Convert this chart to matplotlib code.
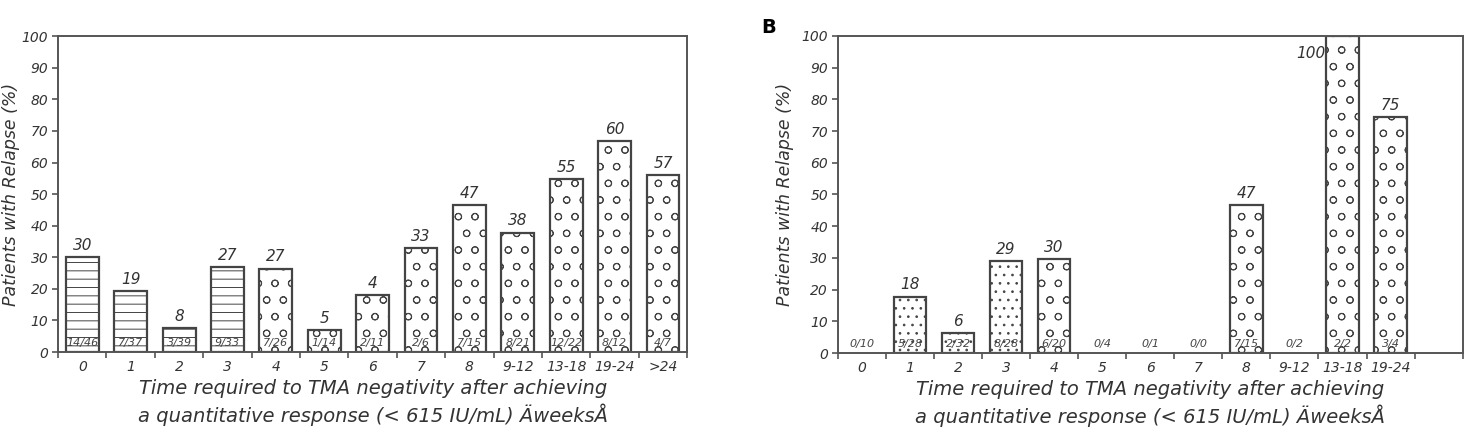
import numpy as np
import matplotlib
matplotlib.use("Agg")
import matplotlib.pyplot as plt

plt.rcParams['font.family'] = ['DejaVu Sans']
plt.rcParams['hatch.color'] = '#666666'
plt.rcParams['hatch.linewidth'] = 0.7

# panel A
cats_a = ['0', '1', '2', '3', '4', '5', '6', '7', '8', '9-12', '13-18', '19-24', '>24']
vals_a = [30, 19.3, 7.6, 26.9, 26.4, 7, 18.1, 32.9, 46.6, 37.8, 54.7, 66.9, 56.1]
top_a = ['30', '19', '8', '27', '27', '5', '4', '33', '47', '38', '55', '60', '57']
frac_a = ['14/46', '7/37', '3/39', '9/33', '7/26', '1/14', '2/11', '2/6', '7/15',
          '8/21', '12/22', '8/12', '4/7']
hatch_a = ['--', '--', '--', '--', 'o', 'o', 'o', 'o', 'o', 'o', 'o', 'o', 'o']

# panel B
cats_b = ['0', '1', '2', '3', '4', '5', '6', '7', '8', '9-12', '13-18', '19-24', '']
vals_b = [0, 17.8, 6.3, 29, 29.7, 0, 0, 0, 46.7, 0, 100, 74.5, 0]
top_b = ['', '18', '6', '29', '30', '', '', '', '47', '', '100', '75', '']
frac_b = ['0/10', '5/28', '2/32', '8/28', '6/20', '0/4', '0/1', '0/0', '7/15',
          '0/2', '2/2', '3/4', '']
hatch_b = ['', '..', '..', '..', 'o', 'o', 'o', 'o', 'o', 'o', 'o', 'o', '']

xlabel = ('Time required to TMA negativity after achieving\n'
          'a quantitative response (< 615 IU/mL) ÄweeksÅ')
ylabel = 'Patients with Relapse (%)'
txt = '#333333'

fig = plt.figure(figsize=(14.7, 4.41), dpi=100)
ax1 = fig.add_axes([0.0395, 0.2018, 0.428, 0.716])
ax2 = fig.add_axes([0.570, 0.1995, 0.425, 0.719])


def draw(ax, cats, vals, tops, fracs, hatches, ylab_x):
    x = np.arange(len(cats))
    for i in x:
        if vals[i] > 0:
            ax.bar(x[i], vals[i], width=0.68, facecolor='white', edgecolor='#444444',
                   linewidth=1.6, hatch=hatches[i], zorder=2)
        if tops[i]:
            if vals[i] >= 99:
                ax.annotate(tops[i], (x[i] - 0.36, 94.5), ha='right', va='center',
                            fontsize=11, style='italic', color=txt)
            else:
                ax.annotate(tops[i], (x[i], vals[i]), xytext=(0, 3),
                            textcoords='offset points', ha='center', va='bottom',
                            fontsize=11, style='italic', color=txt)
        ax.text(x[i], 1.2, fracs[i], ha='center', va='bottom', fontsize=8,
                style='italic', color='#444444', zorder=3)
    ax.set_xlim(-0.5, len(cats) - 0.5)
    ax.set_ylim(0, 100)
    ax.set_yticks(range(0, 101, 10))
    ax.set_xticks(x)
    ax.set_xticklabels(cats, fontsize=10, style='italic', color=txt)
    ax.set_xticks(np.arange(-0.5, len(cats), 1), minor=True)
    ax.tick_params(axis='x', which='major', length=0, pad=6)
    ax.tick_params(axis='x', which='minor', length=4, color='#555555', width=1.2)
    ax.tick_params(axis='y', length=4, color='#555555', width=1.2, labelsize=10,
                   labelcolor=txt, pad=3)
    for lab in ax.get_yticklabels():
        lab.set_style('italic')
    for s in ax.spines.values():
        s.set_color('#555555')
        s.set_linewidth(1.4)
    ax.set_xlabel(xlabel, fontsize=14, style='italic', color=txt, labelpad=3,
                  linespacing=1.3)
    ax.set_ylabel(ylabel, fontsize=12.5, style='italic', color=txt)
    ax.yaxis.set_label_coords(ylab_x, 0.5)


draw(ax1, cats_a, vals_a, top_a, frac_a, hatch_a, -0.060)
draw(ax2, cats_b, vals_b, top_b, frac_b, hatch_b, -0.070)

fig.text(0.518, 0.925, 'B', fontsize=14, fontweight='bold', color='black')

fig.savefig('out.png', dpi=100)
